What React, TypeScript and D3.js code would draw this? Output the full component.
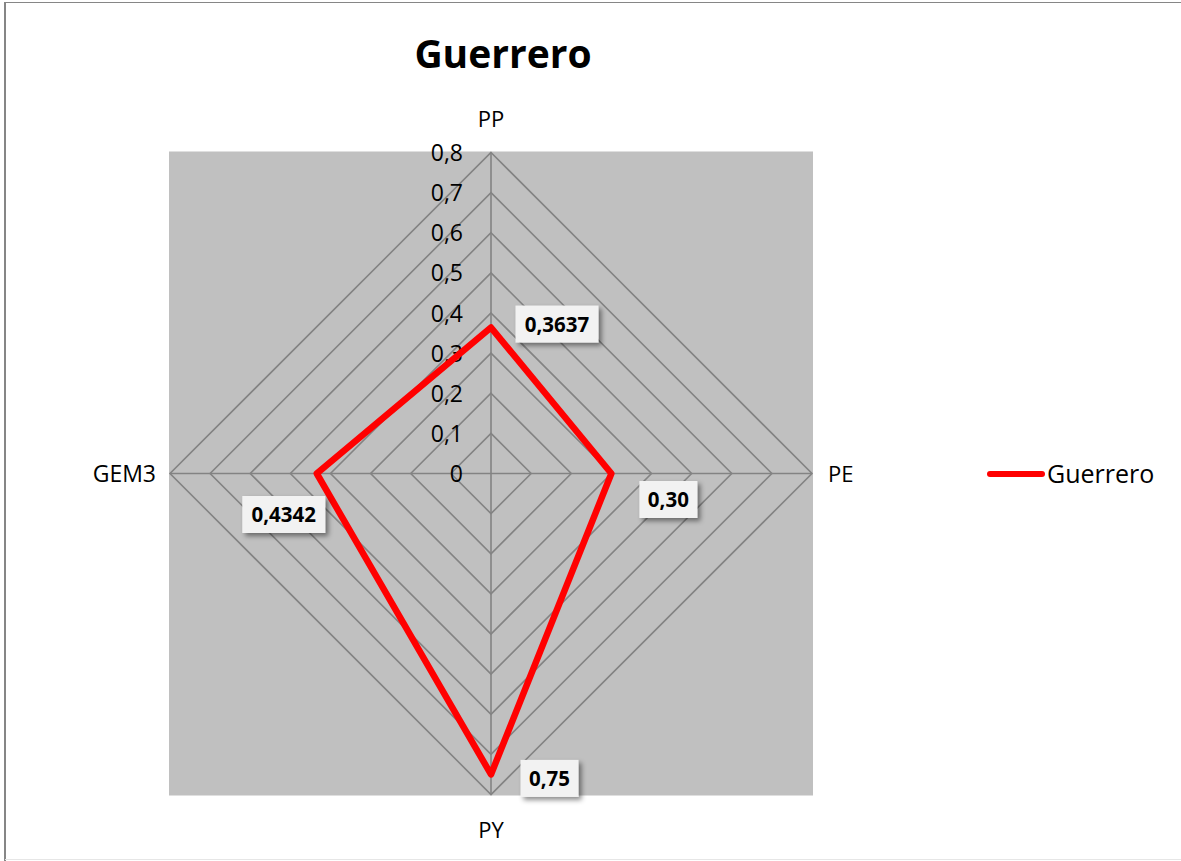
import React from "react";
import * as d3 from "d3";

const categories = ["PP", "PE", "PY", "GEM3"];
const seriesName = "Guerrero";
const values = [0.3637, 0.3, 0.75, 0.4342];
const valueLabels = ["0,3637", "0,30", "0,75", "0,4342"];
const ticks = [0, 0.1, 0.2, 0.3, 0.4, 0.5, 0.6, 0.7, 0.8];
const tickLabels = ["0", "0,1", "0,2", "0,3", "0,4", "0,5", "0,6", "0,7", "0,8"];

// layout (not data)
const cx = 491;
const cy = 473.5;
const labelOffsets: [number, number][] = [
  [66, -3.5],
  [57, 26],
  [58.5, 4],
  [-33, 41],
];

const FONT = "'Open Sans', 'Noto Sans', sans-serif";

export default function App() {
  const r = d3.scaleLinear().domain([0, 0.8]).range([0, 321]);
  const angle = (i: number) => (i * 2 * Math.PI) / categories.length;
  const pt = (i: number, v: number): [number, number] => [
    cx + r(v) * Math.sin(angle(i)),
    cy - r(v) * Math.cos(angle(i)),
  ];
  const line = d3.line<[number, number]>().curve(d3.curveLinearClosed);
  const pts = values.map((v, i) => pt(i, v));

  const axisLabelPos: [number, number, string, number][] = [
    [cx, 127, "middle", 22],
    [828, cy + 8, "start", 22],
    [cx, 838, "middle", 22],
    [156, cy + 8, "end", 23],
  ];

  return (
    <svg width={1181} height={861} style={{ position: "absolute", left: 0, top: 0 }}>
      <defs>
        <filter id="sh" x="-20%" y="-20%" width="150%" height="160%">
          <feDropShadow dx="3" dy="3" stdDeviation="2.5" floodColor="#000" floodOpacity="0.45" />
        </filter>
      </defs>
      <rect x={0} y={0} width={1181} height={861} fill="#fff" />
      <line x1={5} y1={2.5} x2={1181} y2={2.5} stroke="#868686" strokeWidth={1.2} />
      <line x1={5} y1={2} x2={5} y2={861} stroke="#868686" strokeWidth={2} />
      <line x1={5} y1={859.5} x2={1181} y2={859.5} stroke="#e6e6e6" strokeWidth={1} />

      <text x={503} y={68} textAnchor="middle" fontFamily={FONT} fontWeight="bold" fontSize={39}>
        {seriesName}
      </text>

      <rect x={cx - r(0.8) - 1} y={cy - r(0.8) - 1} width={2 * r(0.8) + 2} height={2 * r(0.8) + 2} fill="#c0c0c0" />

      {ticks.slice(1).map((t) => (
        <path
          key={t}
          d={line(categories.map((_, i) => pt(i, t))) || ""}
          fill="none"
          stroke="#838383"
          strokeWidth={1.6}
        />
      ))}
      {categories.map((c, i) => {
        const [x, y] = pt(i, 0.8);
        return <line key={c} x1={cx} y1={cy} x2={x} y2={y} stroke="#838383" strokeWidth={1.6} />;
      })}

      {ticks.map((t, i) => (
        <text
          key={t}
          x={463}
          y={cy - r(t) + 8.5}
          textAnchor="end"
          fontFamily={FONT}
          fontSize={23}
          fill="#000"
        >
          {tickLabels[i]}
        </text>
      ))}

      {categories.map((c, i) => (
        <text
          key={c}
          x={axisLabelPos[i][0]}
          y={axisLabelPos[i][1]}
          textAnchor={axisLabelPos[i][2] as any}
          fontFamily={FONT}
          fontSize={axisLabelPos[i][3]}
        >
          {c}
        </text>
      ))}

      <path d={line(pts) || ""} fill="none" stroke="#ff0000" strokeWidth={6.5} strokeLinejoin="round" />

      {pts.map(([x, y], i) => {
        const lx = x + labelOffsets[i][0];
        const ly = y + labelOffsets[i][1];
        const w = 8 + valueLabels[i].length * 12.5;
        const h = 37;
        return (
          <g key={i}>
            <rect x={lx - w / 2} y={ly - h / 2} width={w} height={h} fill="#f2f2f2" filter="url(#sh)" />
            <text
              x={lx}
              y={ly + 7.5}
              textAnchor="middle"
              fontFamily={FONT}
              fontWeight="bold"
              fontSize={20.5}
            >
              {valueLabels[i]}
            </text>
          </g>
        );
      })}

      <line x1={990} y1={474} x2={1042} y2={474} stroke="#ff0000" strokeWidth={6} strokeLinecap="round" />
      <text x={1047} y={482.5} fontFamily={FONT} fontSize={25}>
        {seriesName}
      </text>
    </svg>
  );
}
